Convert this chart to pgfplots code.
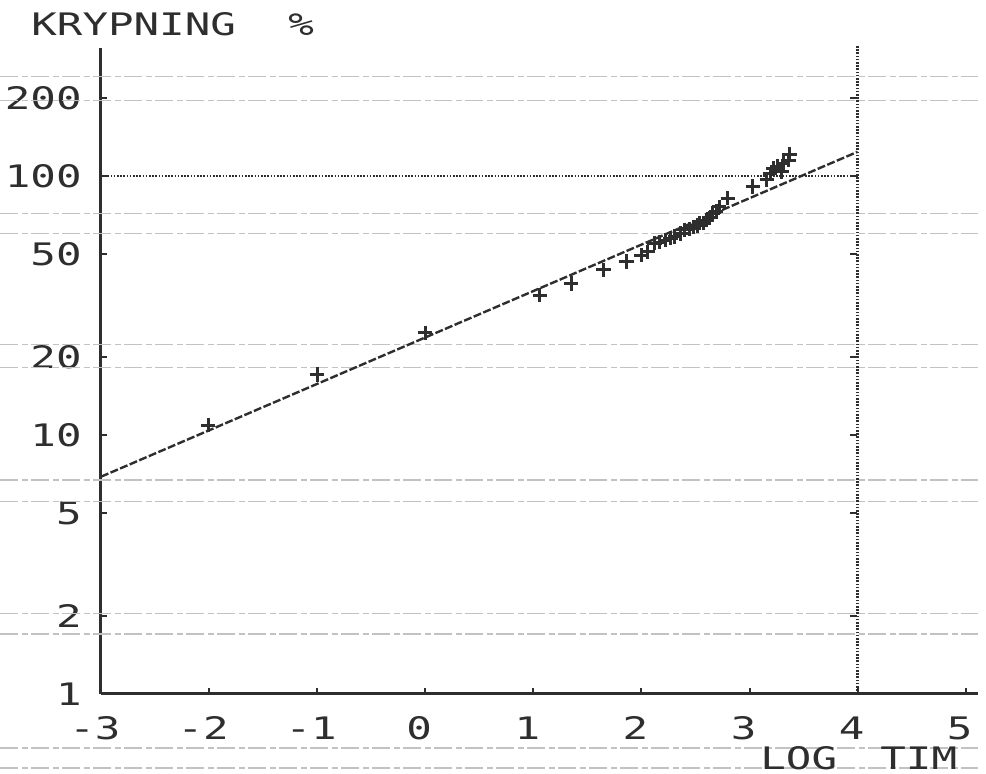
\documentclass[border=0pt]{standalone}
\usepackage{fontspec}
\usepackage{pgfplots}
\pgfplotsset{compat=1.18}
\newfontfamily\dotfont[FakeStretch=1.37]{DejaVu Sans Mono}
\newcommand\df{\dotfont\fontsize{15.5}{18}\selectfont}
\definecolor{ink}{gray}{0.18}
\begin{document}
\begin{tikzpicture}
\begin{axis}[
  at={(0,0)}, anchor=south west,
  scale only axis, width=438.3pt, height=323pt,
  xmin=-3, xmax=5.11, ymin=1, ymax=312,
  ymode=log, log basis y=10,
  axis lines=left,
  axis line style={line width=1.5pt, ink, -},
  xtick={-3,-2,-1,0,1,2,3,4,5},
  xticklabels={-3,-2,-1,0,1,2,3,4,5},
  ytick={1,2,5,10,20,50,100,200},
  yticklabels={1,2,5,10,20,50,100,200},
  yminorticks=false,
  tick align=inside, major tick length=3pt,
  tick style={line width=1pt, ink},
  tick label style={font=\df, text=ink, inner sep=0pt},
  xticklabel style={anchor=center, yshift=-17pt, xshift=-3pt},
  yticklabel style={anchor=east, xshift=-9.5pt},
  clip=false,
]
% faint paper lines (scan artefacts)
\foreach \v in {241.7,195.4,71.8,60.1,22.3,18.2,6.70,5.52,2.05,1.705,0.619,0.518}{
  \edef\tmp{\noexpand\draw[black!24, line width=0.6pt, dash pattern=on 9pt off 2pt on 3pt off 1.5pt]
    (axis cs:-3.93,\v) -- (axis cs:5.11,\v);}\tmp
}
% 100 % reference line and vertical line at 4
\draw[ink, line width=1.1pt, dash pattern=on 0.8pt off 0.8pt] (axis cs:-3,100) -- (axis cs:4,100);
\draw[ink, line width=1.3pt, dash pattern=on 0.8pt off 0.8pt] (axis cs:4,1) -- (axis cs:4,318);
\addplot[only marks, mark=-, mark size=1.6pt, ink, line width=1pt]
  coordinates {(3.96,2) (3.96,5) (3.96,10) (3.96,20) (3.96,50) (3.96,100) (3.96,200)};
% fitted line
\addplot[ink, line width=1.2pt, dash pattern=on 4pt off 1.2pt] coordinates {(-3,6.9) (4,124)};
% data
\addplot[only marks, mark=+, mark size=3.6pt, ink, line width=1.5pt] coordinates {
(-2.01,10.9) (-1.00,17.1) (0.00,24.8) (1.06,34.7) (1.35,38.5) (1.65,43.4)
(1.86,46.7) (2.00,49.5) (2.06,51) (2.12,55) (2.17,55.5) (2.22,56.6)
(2.27,57.5) (2.31,58.3) (2.36,60) (2.40,61.9) (2.44,62.5) (2.48,63.7)
(2.52,64.5) (2.54,65.7) (2.57,66) (2.60,67.6) (2.63,69) (2.66,71.7)
(2.69,73) (2.72,76.1) (2.80,82) (3.03,91) (3.16,96.5) (3.19,102)
(3.22,107) (3.26,109) (3.30,104) (3.31,112) (3.36,115) (3.37,121)
};
\end{axis}
\node[anchor=west, font=\df, text=ink, inner sep=0pt] at (-35pt,334.75pt) {KRYPNING};
\node[anchor=west, font=\df, text=ink, inner sep=0pt] at (93.5pt,334.75pt) {\%};
\node[anchor=west, font=\df, text=ink, inner sep=0pt] at (329.5pt,-32pt) {LOG};
\node[anchor=west, font=\df, text=ink, inner sep=0pt] at (389.5pt,-32pt) {TIM};
\pgfresetboundingbox
\path[use as bounding box] (-50.5pt,-40pt) rectangle (442.5pt,347pt);
\end{tikzpicture}
\end{document}
